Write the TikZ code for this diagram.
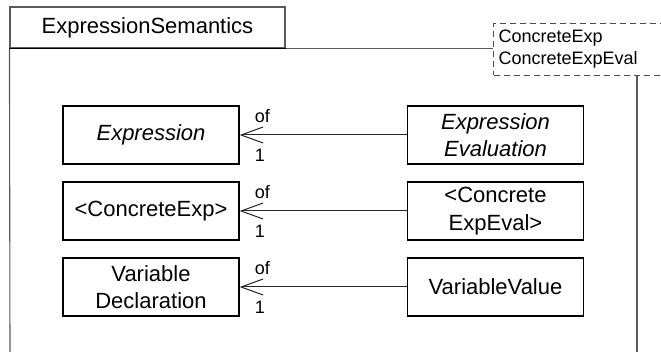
\documentclass[tikz,border=0pt]{standalone}
\usepackage{fontspec}
\setmainfont{Liberation Sans}
\usetikzlibrary{arrows.meta,calc}
\begin{document}
\begin{tikzpicture}[x=1pt,y=-1pt,
  cls/.style={draw=black, line width=1.3pt, minimum width=176pt, minimum height=58pt,
    inner sep=0pt, align=center, font=\fontsize{22}{27.5}\selectfont},
  itcls/.style={cls, font=\fontsize{22}{27.5}\selectfont\itshape},
  lbl/.style={inner sep=0pt, anchor=base west, font=\fontsize{18}{20}\selectfont},
  assoc/.style={draw=black!85, line width=1pt,
    -{Straight Barb[length=22pt,width=16pt,line width=1pt]}},
  pkgline/.style={draw=black!65, line width=1.1pt}]

\useasboundingbox (0,0) rectangle (661,352);
\clip (0,0) rectangle (661,352);

% package tab and template box
\node[pkgline, minimum width=275pt, minimum height=41pt, inner sep=0pt,
  font=\fontsize{22}{29}\selectfont] (pkg) at (147.5,27.5) {ExpressionSemantics};
\node[draw=black!70, dash pattern=on 6pt off 4pt, line width=1pt, anchor=north west,
  text width=190pt, minimum height=52pt, inner xsep=5pt, inner ysep=0pt, align=left,
  font=\fontsize{18}{22}\selectfont] (tpl) at (493,23) {ConcreteExp\\ConcreteExpEval};

\coordinate (lb) at (10,352);
\coordinate (rb) at (637,352);
\draw[pkgline] (pkg.south west) -- (lb);
\draw[pkgline] (pkg.south east) -- (tpl.west |- pkg.south);
\draw[black, line width=1.3pt] (pkg.south west) -- (pkg.south east);
\draw[pkgline] (rb |- tpl.south) -- (rb);

% classes
\node[itcls] (ex)  at (151,135)   {Expression};
\node[itcls] (ev)  at (495.5,135) {Expression\\Evaluation};
\node[cls]   (ce)  at (151,211)   {<ConcreteExp>};
\node[cls]   (cee) at (495.5,211) {<Concrete\\ExpEval>};
\node[cls]   (vd)  at (151,287)   {Variable\\Declaration};
\node[cls]   (vv)  at (495.5,287) {VariableValue};

% associations
\draw[assoc] (ev) -- (ex);
\draw[assoc] (cee) -- (ce);
\draw[assoc] (vv) -- (vd);

\node[lbl] (of1) at ($(ex.east)+(15,-12)$) {of};
\node[lbl] (m1)  at ($(ex.east)+(15,27)$)  {1};
\node[lbl] (of2) at ($(ce.east)+(15,-12)$) {of};
\node[lbl] (m2)  at ($(ce.east)+(15,27)$)  {1};
\node[lbl] (of3) at ($(vd.east)+(15,-12)$) {of};
\node[lbl] (m3)  at ($(vd.east)+(15,27)$)  {1};
\end{tikzpicture}
\end{document}
